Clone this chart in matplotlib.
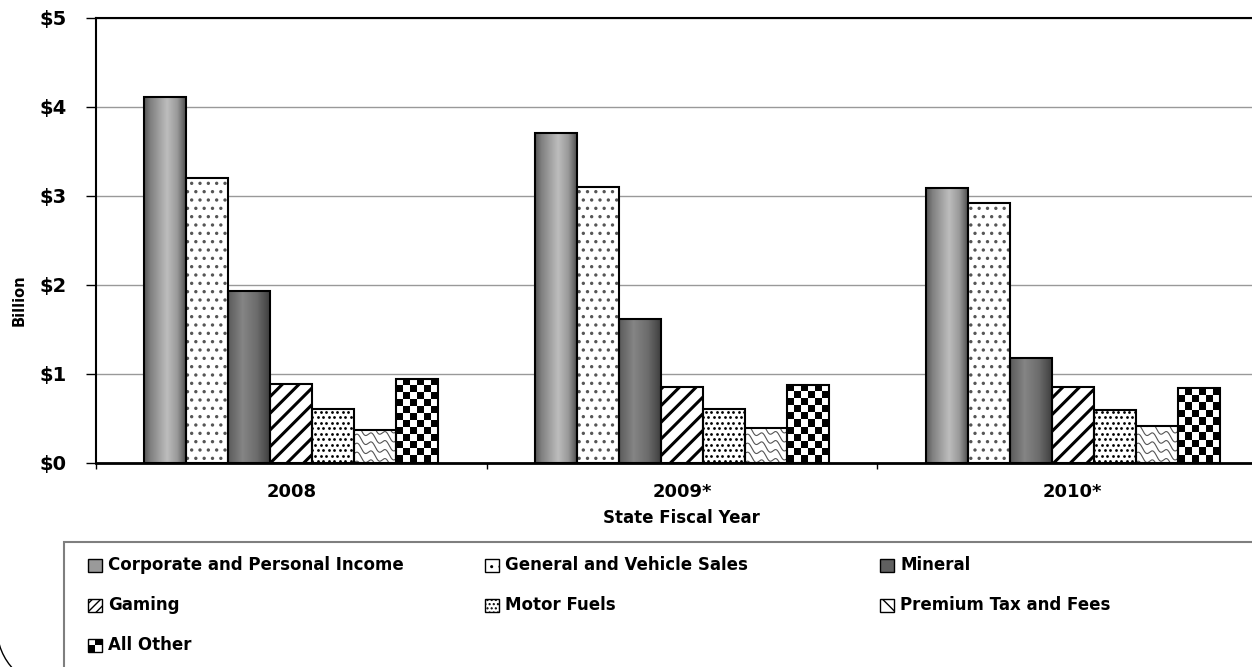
import numpy as np
import matplotlib.pyplot as plt
from matplotlib.patches import Rectangle, Arc
from matplotlib.transforms import IdentityTransform

plt.rcParams['font.family'] = ['DejaVu Sans']
plt.rcParams['font.weight'] = 'bold'

# revenue by source, $ billion
years = ['2008', '2009*', '2010*']
series = ['Corporate and Personal Income', 'General and Vehicle Sales', 'Mineral',
          'Gaming', 'Motor Fuels', 'Premium Tax and Fees', 'All Other']
corporate = [4.11, 3.70, 3.08]
general_sales = [3.20, 3.10, 2.92]
mineral = [1.93, 1.61, 1.17]
gaming = [0.88, 0.85, 0.85]
motor_fuels = [0.60, 0.605, 0.59]
premium = [0.37, 0.39, 0.41]
all_other = [0.94, 0.87, 0.835]

W, H = 1252, 667
fig = plt.figure(figsize=(W / 100, H / 100), dpi=100)
ax = fig.add_axes([96 / W, (H - 462.5) / H, 1172 / W, 445 / H])

x = np.arange(len(years))
w = 0.1075
px_x = 1 / 390.7   # one pixel in x data units
px_y = 1 / 89.0    # one pixel in y data units


def outline(xs, hs):
    return ax.bar(xs, hs, w, fill=False, edgecolor='black', linewidth=1.5, zorder=4)


def gradient_bars(xs, hs, stops, levels):
    prof = np.interp(np.linspace(0, 1, 64), stops, levels)[None, :]
    for xc, h in zip(xs, hs):
        ax.imshow(prof, cmap='gray', vmin=0, vmax=1, aspect='auto',
                  interpolation='bilinear',
                  extent=[xc - w / 2, xc + w / 2, 0, h], zorder=3)
    outline(xs, hs)


def checker_bars(xs, hs, cols=6):
    for xc, h in zip(xs, hs):
        rows = max(1, int(round(h / px_y / 7.2)))
        i, j = np.indices((rows, cols))
        ax.imshow((i + j) % 2, cmap='gray', vmin=0, vmax=1, aspect='auto',
                  interpolation='nearest', origin='lower',
                  extent=[xc - w / 2, xc + w / 2, 0, h], zorder=3)
    outline(xs, hs)


def hatch_bars(xs, hs, hatch, hcolor, hlw):
    plt.rcParams['hatch.linewidth'] = hlw
    b = ax.bar(xs, hs, w, color='white', edgecolor=hcolor, hatch=hatch,
               linewidth=0, zorder=3)
    for p in b:
        if hasattr(p, 'set_hatch_linewidth'):
            p.set_hatch_linewidth(hlw)
    outline(xs, hs)


def dot_bars(xs, hs, step=5.5):
    b = ax.bar(xs, hs, w, color='white', linewidth=0, zorder=3)
    for p, xc, h in zip(b, xs, hs):
        gy, gx = np.mgrid[0:int(h / px_y / step) + 2, 0:int(w / px_x / step) + 2]
        dx = (gx + 0.5 * (gy % 2)) * step * px_x + xc - w / 2
        dy = gy * step * px_y + 1.5 * px_y
        sc = ax.scatter(dx.ravel(), dy.ravel(), s=4, color='black', marker='o',
                        linewidths=0, zorder=3.2)
        sc.set_clip_path(p)
    outline(xs, hs)


def wave_bars(xs, hs):
    b = ax.bar(xs, hs, w, color='white', linewidth=0, zorder=3)
    t = np.linspace(0, 60, 200)
    for p, xc, h in zip(b, xs, hs):
        for k in range(-6, int(h / px_y / 9) + 6):
            xx = xc - w / 2 + t * px_x
            yy = (k * 9 - 0.55 * t + 3 * np.sin(t / 14 * 2 * np.pi)) * px_y
            ln, = ax.plot(xx, yy, color='#555555', linewidth=0.8, zorder=3.2)
            ln.set_clip_path(p)
    outline(xs, hs)


gradient_bars(x - 3 * w, corporate, [0, 0.15, 0.55, 0.8, 1], [0.34, 0.5, 0.74, 0.6, 0.32])
hatch_bars(x - 2 * w, general_sales, '..', '#555555', 1.2)
gradient_bars(x - w, mineral, [0, 0.35, 0.7, 1], [0.36, 0.52, 0.42, 0.25])
hatch_bars(x, gaming, '//', 'black', 2.2)
dot_bars(x + w, motor_fuels)
wave_bars(x + 2 * w, premium)
checker_bars(x + 3 * w, all_other)

ax.set_xlim(-0.5, 2.5)
ax.set_ylim(0, 5)

ax.yaxis.grid(True, color='#999999', linewidth=1)
ax.set_axisbelow(True)
for s in ['top', 'left']:
    ax.spines[s].set_linewidth(1.5)
ax.spines['bottom'].set_linewidth(2)
ax.spines['right'].set_visible(False)

ax.set_yticks(range(6))
ax.set_yticklabels(['\\$%d' % v for v in range(6)], fontsize=14)
ax.tick_params(axis='y', length=7, width=1, pad=14)

ax.set_xticks([-0.5, 0.5, 1.5, 2.5])
ax.set_xticklabels([])
ax.tick_params(axis='x', which='major', length=4.5, width=1)
ax.set_xticks(x, minor=True)
ax.set_xticklabels(years, minor=True, fontsize=13)
ax.tick_params(axis='x', which='minor', length=0, pad=15)

fig.text(681 / W, 1 - 518 / H, 'State Fiscal Year', ha='center', va='center', fontsize=12)
fig.text(19 / W, 1 - 300 / H, 'Billion', rotation=90, ha='center', va='center', fontsize=10.5)

# legend box
fig.add_artist(Rectangle((64 / W, -0.1), 1.2, (H - 541.5) / H + 0.1, fill=False,
                         edgecolor='#7f7f7f', linewidth=1.5, transform=fig.transFigure))

styles = [
    dict(facecolor='#9a9a9a'),
    dict(facecolor='white', hatch='..'),
    dict(facecolor='#606060'),
    dict(facecolor='white', hatch='////'),
    dict(facecolor='white', hatch='....'),
    dict(facecolor='white', hatch='\\\\'),
    None,
]
col_x = [88, 485, 880]
row_y = [565, 605, 645]
plt.rcParams['hatch.linewidth'] = 1.0
for k, (name, st) in enumerate(zip(series, styles)):
    cx, cy = col_x[k % 3], row_y[k // 3]
    y0 = H - cy - 6.5
    if st is None:
        for a in range(2):
            for b in range(2):
                fig.add_artist(Rectangle((cx + a * 7, y0 + b * 6.5), 7, 6.5,
                                         facecolor='black' if (a + b) % 2 == 0 else 'white',
                                         edgecolor='none', transform=IdentityTransform()))
        fig.add_artist(Rectangle((cx, y0), 14, 13, fill=False, edgecolor='black',
                                 linewidth=1, transform=IdentityTransform()))
    else:
        fig.add_artist(Rectangle((cx, y0), 14, 13, edgecolor='black', linewidth=1,
                                 transform=IdentityTransform(), **st))
    fig.text((cx + 20) / W, 1 - cy / H, name, ha='left', va='center', fontsize=12)

# rounded lower-left corner of the outer chart border
fig.add_artist(Arc((57, 39), 120, 120, theta1=180, theta2=270, edgecolor='black',
                   linewidth=1, transform=IdentityTransform()))

fig.savefig('out.png', dpi=100)
